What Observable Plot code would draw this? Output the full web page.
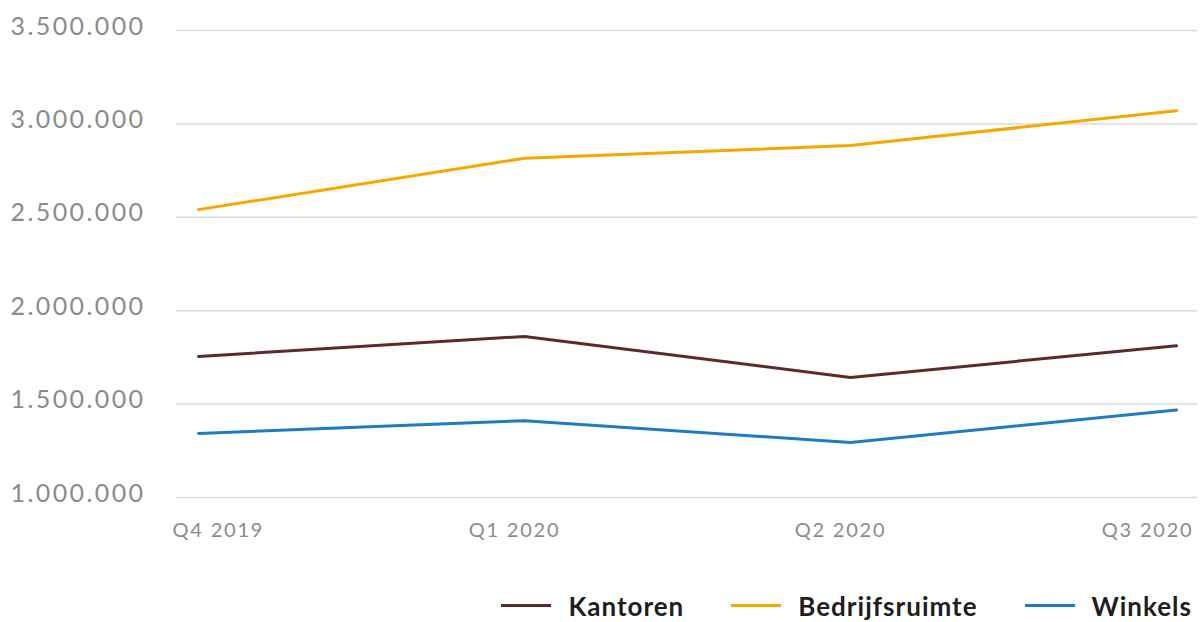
<!DOCTYPE html>
<html>
<head>
<meta charset="utf-8">
<script src="https://cdn.jsdelivr.net/npm/d3@7"></script>
<script src="https://cdn.jsdelivr.net/npm/@observablehq/plot@0.6"></script>
<style>
  html, body { margin: 0; padding: 0; background: #ffffff; }
  #chart { width: 1204px; height: 622px; position: relative; font-family: Lato, "Open Sans", sans-serif; }
  #legend { display: flex; justify-content: flex-end; align-items: center; height: 57px; padding-top: 24px; padding-right: 12px; box-sizing: border-box; }
  .item { display: flex; align-items: center; margin-left: 47px; }
  .sw { width: 50px; height: 3px; margin-right: 17px; }
  .lbl { font-size: 26px; font-weight: 700; color: #1e1e1e; letter-spacing: 1px; line-height: 1; }
  .ylab text { letter-spacing: 2.4px; }
  .xlab text { letter-spacing: 1.8px; }
</style>
</head>
<body>
<div id="chart"></div>
<script>
const quarters = ["Q4 2019", "Q1 2020", "Q2 2020", "Q3 2020"];
const seriesNames = ["Kantoren", "Bedrijfsruimte", "Winkels"];
const kantoren = [1755000, 1862000, 1643000, 1812000];
const bedrijfsruimte = [2541000, 2816000, 2884000, 3071000];
const winkels = [1343000, 1411000, 1295000, 1468000];
const yTicks = [1000000, 1500000, 2000000, 2500000, 3000000, 3500000];
const colors = ["#5b2b29", "#f6a800", "#1f7cc1"];

const seriesValues = [kantoren, bedrijfsruimte, winkels];
const data = [];
seriesNames.forEach((s, i) => quarters.forEach((q, j) => data.push({serie: s, quarter: q, value: seriesValues[i][j]})));

const fmt = d => d3.format(",")(d).replace(/,/g, ".");
const gray = "#8b8b8b";

const plot = Plot.plot({
  width: 1204,
  height: 565,
  marginLeft: 176,
  marginRight: 7,
  marginTop: 30,
  marginBottom: 68,
  style: {fontFamily: "Lato, 'Open Sans', sans-serif", background: "#ffffff"},
  x: {type: "point", domain: quarters, padding: 0, insetLeft: 22, insetRight: 21, axis: null},
  y: {domain: [1000000, 3500000], axis: null},
  color: {domain: seriesNames, range: colors},
  marks: [
    Plot.ruleY(yTicks, {stroke: "#dadada", strokeWidth: 1.5}),
    Plot.text(yTicks, {y: d => d, frameAnchor: "left", text: fmt, textAnchor: "end", dx: -31, dy: -4,
      fill: gray, fontSize: 25, className: "ylab"}),
    Plot.text(quarters.slice(0, 1), {x: d => d, frameAnchor: "bottom", text: d => d, textAnchor: "start", dx: -26, dy: 39,
      fill: gray, fontSize: 20, className: "xlab"}),
    Plot.text(quarters.slice(1, 3), {x: d => d, frameAnchor: "bottom", text: d => d, textAnchor: "middle", dx: -10, dy: 39,
      fill: gray, fontSize: 20, className: "xlab"}),
    Plot.text(quarters.slice(3), {x: d => d, frameAnchor: "bottom", text: d => d, textAnchor: "end", dx: 17, dy: 39,
      fill: gray, fontSize: 20, className: "xlab"}),
    Plot.line(data, {x: "quarter", y: "value", z: "serie", stroke: "serie", strokeWidth: 3, curve: "linear"})
  ]
});

const chart = document.getElementById("chart");
chart.appendChild(plot);

const legend = document.createElement("div");
legend.id = "legend";
seriesNames.forEach((s, i) => {
  const item = document.createElement("div");
  item.className = "item";
  const sw = document.createElement("div");
  sw.className = "sw";
  sw.style.background = colors[i];
  const lbl = document.createElement("span");
  lbl.className = "lbl";
  lbl.textContent = s;
  item.appendChild(sw);
  item.appendChild(lbl);
  legend.appendChild(item);
});
chart.appendChild(legend);
</script>
</body>
</html>
